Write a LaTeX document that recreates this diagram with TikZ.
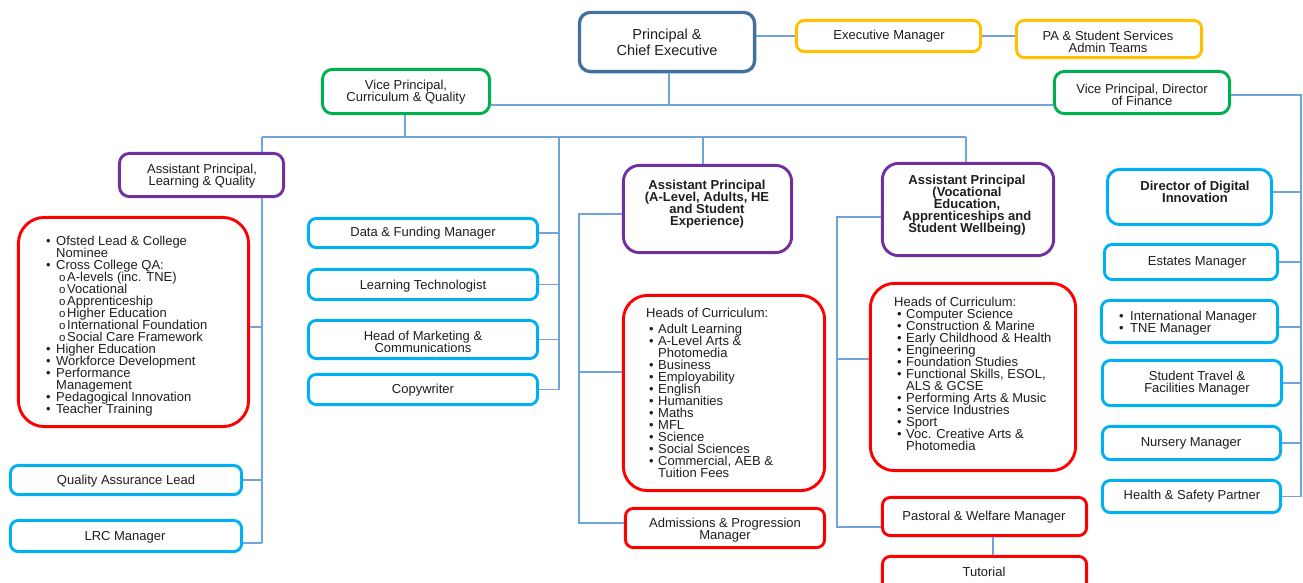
\documentclass[tikz,border=0pt]{standalone}
\usepackage{fontspec}
\setmainfont{Liberation Sans}
\lineskiplimit=-50pt
\definecolor{tc}{RGB}{30,30,34}
\definecolor{lc}{RGB}{111,163,220}
\definecolor{cpce}{RGB}{65,113,156}
\definecolor{cyel}{RGB}{255,192,0}
\definecolor{cgrn}{RGB}{0,176,80}
\definecolor{cpur}{RGB}{112,48,160}
\definecolor{cred}{RGB}{255,0,0}
\definecolor{ccyn}{RGB}{0,176,240}
\newcommand{\myfs}{\fontsize{13}{12}\selectfont}
\newcommand{\mybul}{{\fontsize{13}{12}\selectfont\textbullet}}
\newcommand{\myb}[1][10pt]{\makebox[#1][l]{\mybul}}
\newcommand{\mysb}{\hspace*{13pt}\makebox[8pt][l]{{\fontsize{11.5}{12}\selectfont o}}}
\newcommand{\obox}[6]{%
  \pgfmathsetmacro{\oW}{#5-#3-2.8}\pgfmathsetmacro{\oH}{#6-#4-2.8}%
  \node[#2, minimum width=\oW pt, minimum height=\oH pt] (#1) at ({(#3+#5)/2},{(#4+#6)/2}) {};}
\begin{document}
\begin{tikzpicture}[x=1pt,y=-1pt,
  bx/.style={draw, rounded corners=8pt, line width=2.9pt, inner sep=0pt},
  txt/.style={inner sep=0pt, align=center, text=tc, font=\myfs},
  lst/.style={inner sep=0pt, align=left, text=tc, font=\myfs, anchor=north west},
  conn/.style={draw=lc, line width=1.1pt}]
\clip (0,0) rectangle (1303,582);
\fill[white] (0,0) rectangle (1303,582);
% boxes
\obox{pce}{bx,draw=cpce,line width=3.3pt,rounded corners=11pt}{578}{11}{756}{73}
\obox{em}{bx,draw=cyel}{795}{19}{982}{53}
\obox{pa}{bx,draw=cyel}{1015}{19}{1203}{59}
\obox{vpcq}{bx,draw=cgrn,rounded corners=10pt}{321}{68}{491}{115}
\obox{vpf}{bx,draw=cgrn,rounded corners=10pt}{1053}{70}{1231}{115}
\obox{aplq}{bx,draw=cpur,rounded corners=10pt}{118}{152}{285}{198}
\obox{lq}{bx,draw=cred,rounded corners=26pt}{17}{216}{250}{428}
\obox{qa}{bx,draw=ccyn}{9}{464}{243}{496}
\obox{lrc}{bx,draw=ccyn}{9}{519}{243}{553}
\obox{df}{bx,draw=ccyn}{307}{217}{539}{249}
\obox{lt}{bx,draw=ccyn}{307}{268}{539}{301}
\obox{hm}{bx,draw=ccyn}{307}{319}{539}{360}
\obox{cw}{bx,draw=ccyn}{307}{373}{539}{406}
\obox{apa}{bx,draw=cpur,rounded corners=16pt}{622}{164}{793}{254}
\obox{hoc1}{bx,draw=cred,rounded corners=24pt}{622}{294}{826}{492}
\obox{adm}{bx,draw=cred}{624}{507}{826}{549}
\obox{apv}{bx,draw=cpur,rounded corners=16pt}{881}{162}{1055}{257}
\obox{hoc2}{bx,draw=cred,rounded corners=24pt}{869}{282}{1077}{472}
\obox{past}{bx,draw=cred}{881}{496}{1088}{537}
\obox{tut}{bx,draw=cred}{881}{555}{1088}{605}
\obox{ddi}{bx,draw=ccyn,rounded corners=12pt}{1106}{168}{1273}{226}
\obox{est}{bx,draw=ccyn}{1103}{243}{1279}{281}
\obox{intl}{bx,draw=ccyn}{1100}{299}{1279}{344}
\obox{trav}{bx,draw=ccyn}{1101}{359}{1283}{407}
\obox{nur}{bx,draw=ccyn}{1101}{425}{1282}{461}
\obox{hs}{bx,draw=ccyn}{1101}{479}{1282}{514}
% texts
\node[txt,font=\fontsize{14.5}{16}\selectfont] (t-pce) at (667,42) {Principal \&\\Chief Executive};
\node[txt] (t-em) at (889,36) {Executive Manager};
\node[txt] (t-pa) at (1108,42) {PA \& Student Services\\Admin Teams};
\node[txt] (t-vpcq) at (406,92.5) {Vice Principal,\\Curriculum \& Quality};
\node[txt] (t-vpf) at (1142,94.5) {Vice Principal, Director\\of Finance};
\node[txt] (t-aplq) at (202,176.5) {Assistant Principal,\\Learning \& Quality};
\node[txt,font=\myfs\bfseries] (t-apa) at (707,204.5) {Assistant Principal\\(A-Level, Adults, HE\\and Student\\Experience)};
\node[txt,font=\myfs\bfseries] (t-apv) at (967,205) {Assistant Principal\\(Vocational\\Education,\\Apprenticeships and\\Student Wellbeing)};
\node[txt,font=\myfs\bfseries] (t-ddi) at (1195,192) {Director of Digital\\Innovation};
\node[txt] (t-est) at (1197,262) {Estates Manager};
\node[lst] (t-intl) at (1119,311) {\myb[11pt]International Manager\\\myb[11pt]TNE Manager};
\node[txt] (t-trav) at (1197,383) {Student Travel \&\\Facilities Manager};
\node[txt] (t-nur) at (1191,443) {Nursery Manager};
\node[txt] (t-hs) at (1192,496) {Health \& Safety Partner};
\node[txt] (t-df) at (423,233) {Data \& Funding Manager};
\node[txt] (t-lt) at (423,286) {Learning Technologist};
\node[txt] (t-hm) at (423,341.5) {Head of Marketing \&\\Communications};
\node[txt] (t-cw) at (423,390) {Copywriter};
\node[txt] (t-qa) at (126,481) {Quality Assurance Lead};
\node[txt] (t-lrc) at (125,537) {LRC Manager};
\node[txt] (t-adm) at (725,530.5) {Admissions \& Progression\\Manager};
\node[txt] (t-past) at (984,517) {Pastoral \& Welfare Manager};
\node[txt] (t-tut) at (984,572) {Tutorial};
\node[lst] (t-lq) at (46,236) {\myb Ofsted Lead \& College\\\hspace*{10pt}Nominee\\\myb Cross College QA:\\\mysb A-levels (inc. TNE)\\\mysb Vocational\\\mysb Apprenticeship\\\mysb Higher Education\\\mysb International Foundation\\\mysb Social Care Framework\\\myb Higher Education\\\myb Workforce Development\\\myb Performance\\\hspace*{10pt}Management\\\myb Pedagogical Innovation\\\myb Teacher Training};
\node[lst] (t-hoc1) at (646,308) {Heads of Curriculum:\\[4pt]\hspace*{3pt}\myb[9pt]Adult Learning\\\hspace*{3pt}\myb[9pt]A-Level Arts \&\\\hspace*{12pt}Photomedia\\\hspace*{3pt}\myb[9pt]Business\\\hspace*{3pt}\myb[9pt]Employability\\\hspace*{3pt}\myb[9pt]English\\\hspace*{3pt}\myb[9pt]Humanities\\\hspace*{3pt}\myb[9pt]Maths\\\hspace*{3pt}\myb[9pt]MFL\\\hspace*{3pt}\myb[9pt]Science\\\hspace*{3pt}\myb[9pt]Social Sciences\\\hspace*{3pt}\myb[9pt]Commercial, AEB \&\\\hspace*{12pt}Tuition Fees};
\node[lst] (t-hoc2) at (894,297) {Heads of Curriculum:\\\hspace*{3pt}\myb[9pt]Computer Science\\\hspace*{3pt}\myb[9pt]Construction \& Marine\\\hspace*{3pt}\myb[9pt]Early Childhood \& Health\\\hspace*{3pt}\myb[9pt]Engineering\\\hspace*{3pt}\myb[9pt]Foundation Studies\\\hspace*{3pt}\myb[9pt]Functional Skills, ESOL,\\\hspace*{12pt}ALS \& GCSE\\\hspace*{3pt}\myb[9pt]Performing Arts \& Music\\\hspace*{3pt}\myb[9pt]Service Industries\\\hspace*{3pt}\myb[9pt]Sport\\\hspace*{3pt}\myb[9pt]Voc. Creative Arts \&\\\hspace*{12pt}Photomedia};
% connectors
\coordinate (h1) at (669,105);
\draw[conn] (h1 |- pce.south) -- (h1);
\draw[conn] (vpcq.east |- h1) -- (vpf.west |- h1);
\draw[conn] (em.west) -- (em.west -| pce.east);
\draw[conn] (em.east) -- (em.east -| pa.west);
\coordinate (rb) at (1301,95);
\coordinate (ddij) at ([yshift=5pt]ddi.east);
\coordinate (intlj) at ([yshift=-5.5pt]intl.east);
\draw[conn] (vpf.east |- rb) -- (rb) -- (rb |- hs.east);
\draw[conn] (ddij) -- (ddij -| rb);
\draw[conn] (intlj) -- (intlj -| rb);
\foreach \n in {est,trav,nur,hs} \draw[conn] (\n.east) -- (\n.east -| rb);
\coordinate (h2) at (405,137);
\coordinate (bL) at (262,137);
\coordinate (bR) at (966,137);
\coordinate (bM) at (559,137);
\coordinate (bA) at (703,137);
\draw[conn] (h2 |- vpcq.south) -- (h2);
\draw[conn] (bL) -- (bR);
\draw[conn] (bL) -- (bL |- aplq.north);
\draw[conn] (bR) -- (bR |- apv.north);
\draw[conn] (bA) -- (bA |- apa.north);
\draw[conn] (bM) -- (bM |- cw.east);
\foreach \n in {df,lt,hm,cw} \draw[conn] (\n.east) -- (\n.east -| bM);
\coordinate (lrcj) at ([yshift=-7pt]lrc.east);
\coordinate (lqj) at ([yshift=-5pt]lq.east);
\draw[conn] (bL |- aplq.south) -- (bL |- lrcj);
\draw[conn] (lrcj) -- (lrcj -| bL);
\draw[conn] (lqj) -- (lqj -| bL);
\draw[conn] (qa.east) -- (qa.east -| bL);
\coordinate (lA) at (579,214);
\coordinate (admj) at ([yshift=5pt]adm.west);
\coordinate (hoc1j) at ([yshift=21pt]hoc1.west);
\draw[conn] (apa.west |- lA) -- (lA) -- (lA |- admj) -- (admj);
\draw[conn] (hoc1j) -- (hoc1j -| lA);
\coordinate (lV) at (837,217);
\coordinate (pastj) at ([yshift=-10.5pt]past.west);
\coordinate (hoc2j) at ([yshift=18pt]hoc2.west);
\draw[conn] (apv.west |- lV) -- (lV) -- (lV |- pastj) -- (pastj);
\draw[conn] (hoc2j) -- (hoc2j -| lV);
\draw[conn] ([xshift=8.5pt]past.south) -- ([xshift=8.5pt]tut.north);
\end{tikzpicture}
\end{document}
